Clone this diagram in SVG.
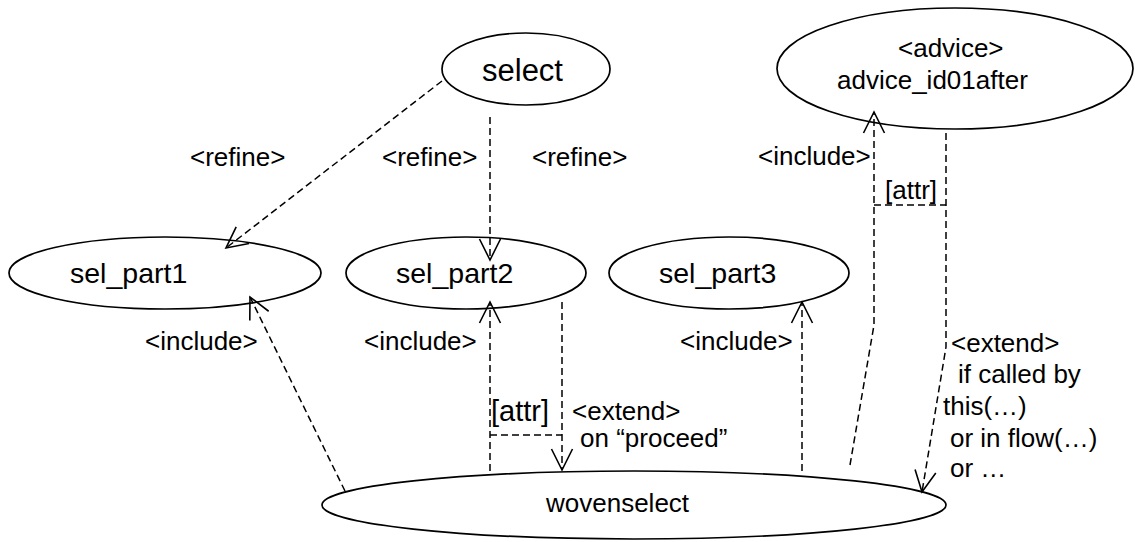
<svg xmlns="http://www.w3.org/2000/svg" width="1135" height="542" viewBox="0 0 1135 542">
  <style>
    .node { fill: #ffffff; stroke: #000000; stroke-width: 1.7; }
    .conn { fill: none; stroke: #000000; stroke-width: 1.5; stroke-dasharray: 7 4; }
    text { font-family: "Liberation Sans", Arial, sans-serif; fill: #000000; }
    .big { font-size: 31px; }
    .mid { font-size: 28.5px; }
    .lbl { font-size: 26px; }
    .attr { font-size: 29px; }
  </style>
  <defs>
    <marker id="open" markerUnits="userSpaceOnUse" markerWidth="30" markerHeight="30" refX="0" refY="0" viewBox="-25 -15 30 30" orient="auto">
      <path d="M-21,-10.5 L0,0 L-21,10.5" fill="none" stroke="#000000" stroke-width="1.6"/>
    </marker>
  </defs>
  <rect width="1135" height="542" fill="#ffffff"/>

  <!-- use cases -->
  <g id="select">
    <ellipse class="node" cx="526" cy="69" rx="84" ry="36"/>
    <text class="big" x="482" y="81">select</text>
  </g>
  <g id="advice">
    <ellipse class="node" cx="955" cy="68.5" rx="178" ry="60.5"/>
    <text class="lbl" x="898" y="57">&lt;advice&gt;</text>
    <text class="lbl" x="837" y="89">advice_id01after</text>
  </g>
  <g id="sel_part1">
    <ellipse class="node" cx="165" cy="273" rx="156" ry="36"/>
    <text class="mid" x="70" y="283">sel_part1</text>
  </g>
  <g id="sel_part2">
    <ellipse class="node" cx="466" cy="273" rx="120" ry="36"/>
    <text class="mid" x="396" y="283">sel_part2</text>
  </g>
  <g id="sel_part3">
    <ellipse class="node" cx="729" cy="273" rx="120" ry="36"/>
    <text class="mid" x="659" y="283">sel_part3</text>
  </g>
  <g id="wovenselect">
    <ellipse class="node" cx="634" cy="505" rx="312" ry="34"/>
    <text class="lbl" x="546" y="512">wovenselect</text>
  </g>

  <!-- dependencies -->
  <g id="connectors">
    <path class="conn" d="M442,81 L226,248" marker-end="url(#open)"/>
    <path class="conn" d="M490,117 L490,260" marker-end="url(#open)"/>
    <path class="conn" d="M345,491 L250,297" marker-end="url(#open)"/>
    <path class="conn" d="M490,471 L490,302" marker-end="url(#open)"/>
    <path class="conn" d="M562,302 L562,470" marker-end="url(#open)"/>
    <path class="conn" d="M490,435 L562,435"/>
    <path class="conn" d="M802,471 L802,302" marker-end="url(#open)"/>
    <path class="conn" d="M850,465 L874,325 L874,112" marker-end="url(#open)"/>
    <path class="conn" d="M946,133 L946,347 L922,492" marker-end="url(#open)"/>
    <path class="conn" d="M874,205 L946,205"/>

    <text class="lbl" x="190" y="166">&lt;refine&gt;</text>
    <text class="lbl" x="382" y="166">&lt;refine&gt;</text>
    <text class="lbl" x="532" y="166">&lt;refine&gt;</text>
    <text class="lbl" x="758" y="165">&lt;include&gt;</text>
    <text class="lbl" x="885" y="199">[attr]</text>
    <text class="lbl" x="145" y="350">&lt;include&gt;</text>
    <text class="lbl" x="364" y="350">&lt;include&gt;</text>
    <text class="lbl" x="680" y="350">&lt;include&gt;</text>
    <text class="attr" x="491" y="421">[attr]</text>
    <text class="lbl" x="572" y="420">&lt;extend&gt;</text>
    <text class="lbl" x="580" y="447">on “proceed”</text>
    <text class="lbl" x="951" y="352">&lt;extend&gt;</text>
    <text class="lbl" x="958" y="383">if called by</text>
    <text class="lbl" x="943" y="415">this(…)</text>
    <text class="lbl" x="950" y="447">or in flow(…)</text>
    <text class="lbl" x="950" y="477">or …</text>
  </g>
</svg>
